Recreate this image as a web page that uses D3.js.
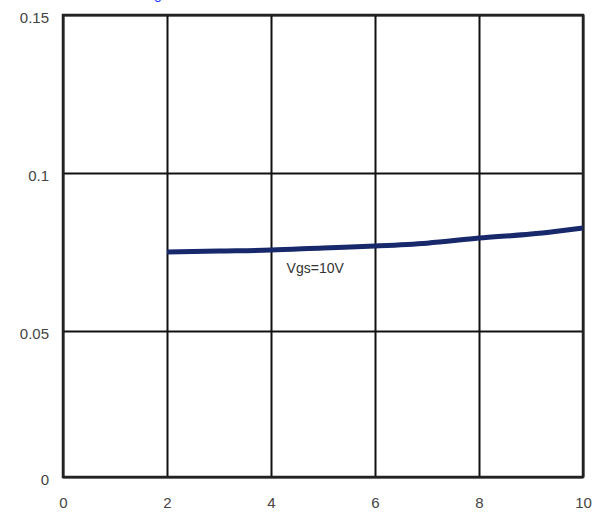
<!DOCTYPE html>
<html>
<head>
<meta charset="utf-8">
<script src="https://cdn.jsdelivr.net/npm/d3@7"></script>
<style>
  body { margin: 0; background: #fff; }
  svg { display: block; font-family: "Liberation Sans", Arial, sans-serif; }
</style>
</head>
<body>
<div id="chart"></div>
<script>
// data
const xTicks = [0, 2, 4, 6, 8, 10];
const yTicks = [0, 0.05, 0.1, 0.15];
const yTickLabels = ["0", "0.05", "0.1", "0.15"];
const vdsValues = [2, 3, 4, 5, 6, 7, 8, 9, 9.5, 10];
const rdsValues = [0.0750, 0.0753, 0.0756, 0.0763, 0.0769, 0.0778, 0.0794, 0.0807, 0.0816, 0.0826];
const seriesLabel = "Vgs=10V";

const width = 610, height = 520;

// the scanned grid is not evenly spaced, so the y scale is piecewise
const xScale = d3.scaleLinear().domain([0, 10]).range([63, 583]);
const yScale = d3.scaleLinear().domain([0, 0.05, 0.1, 0.15]).range([477, 331, 173, 15]);

const svg = d3.select("#chart").append("svg")
    .attr("width", width)
    .attr("height", height);

// clipped caption fragment at the top
svg.append("text")
    .attr("x", 154)
    .attr("y", -1)
    .attr("font-size", 14)
    .attr("fill", "#1a3cff")
    .text("g");

const plotH = yScale(0) - yScale(0.15);
const plotW = xScale(10) - xScale(0);

svg.append("g")
    .attr("class", "axis axis--x")
    .attr("transform", `translate(0,${yScale(0)})`)
    .call(d3.axisBottom(xScale)
        .tickValues(xTicks)
        .tickSize(-plotH)
        .tickPadding(20)
        .tickFormat(d3.format("d")))
    .call(g => g.select(".domain").remove())
    .call(g => g.selectAll(".tick line").attr("stroke", "#111").attr("stroke-width", 2))
    .call(g => g.selectAll(".tick text").attr("font-size", 15).attr("fill", "#444"));

svg.append("g")
    .attr("class", "axis axis--y")
    .attr("transform", `translate(${xScale(0)},0)`)
    .call(d3.axisLeft(yScale)
        .tickValues(yTicks)
        .tickSize(-plotW)
        .tickPadding(14)
        .tickFormat((d, i) => yTickLabels[i]))
    .call(g => g.select(".domain").remove())
    .call(g => g.selectAll(".tick line").attr("stroke", "#111").attr("stroke-width", 2))
    .call(g => g.selectAll(".tick text").attr("font-size", 15).attr("fill", "#444").attr("dy", "0.5em"));

svg.append("rect")
    .attr("x", xScale(0))
    .attr("y", yScale(0.15))
    .attr("width", plotW)
    .attr("height", plotH)
    .attr("fill", "none")
    .attr("stroke", "#222")
    .attr("stroke-width", 2.5);

const line = d3.line()
    .x((d, i) => xScale(vdsValues[i]))
    .y(d => yScale(d))
    .curve(d3.curveMonotoneX);

svg.append("path")
    .datum(rdsValues)
    .attr("d", line)
    .attr("fill", "none")
    .attr("stroke", "#17286b")
    .attr("stroke-width", 5);

svg.append("text")
    .attr("x", xScale(4.3))
    .attr("y", yScale(0.0684))
    .attr("font-size", 14)
    .attr("fill", "#333")
    .text(seriesLabel);
</script>
</body>
</html>
